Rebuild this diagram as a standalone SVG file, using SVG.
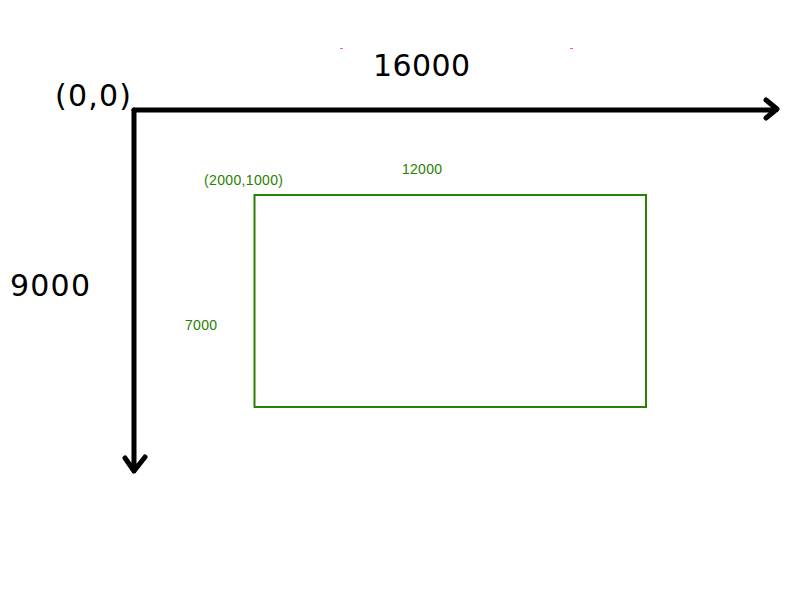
<svg xmlns="http://www.w3.org/2000/svg" width="811" height="600" viewBox="0 0 811 600">
<style>
.axis{fill:none;stroke:#000;stroke-width:5;stroke-linecap:round;stroke-linejoin:round}
.big{font-family:"DejaVu Sans",sans-serif;font-size:30px;fill:#000}
.small{font-family:"Liberation Sans",Arial,sans-serif;font-size:14px;fill:#2a8000}
</style>
<rect width="811" height="600" fill="#fff"/>
<g id="connectors">
<path class="axis" d="M134,110 H776 M766,100 L777,109 L766,118"/>
<path class="axis" d="M134,110 V471 M125,458 L134,471 L145,457"/>
</g>
<g id="rect-node">
<rect x="254.5" y="195" width="391.5" height="212" fill="none" stroke="#2a8000" stroke-width="2"/>
</g>
<g id="labels">
<text class="big" x="55" y="106" textLength="76">(0,0)</text>
<text class="big" x="373" y="76" textLength="97">16000</text>
<text class="big" x="10" y="296" textLength="80">9000</text>
<text class="small" x="204" y="185" textLength="79">(2000,1000)</text>
<text class="small" x="402" y="174" textLength="40">12000</text>
<text class="small" x="185" y="330" textLength="32">7000</text>
</g>
<g id="marks" stroke="#ff6060" stroke-width="1">
<line x1="340" y1="48.5" x2="343" y2="48.5"/>
<line x1="570" y1="48.5" x2="573" y2="48.5"/>
</g>
</svg>
